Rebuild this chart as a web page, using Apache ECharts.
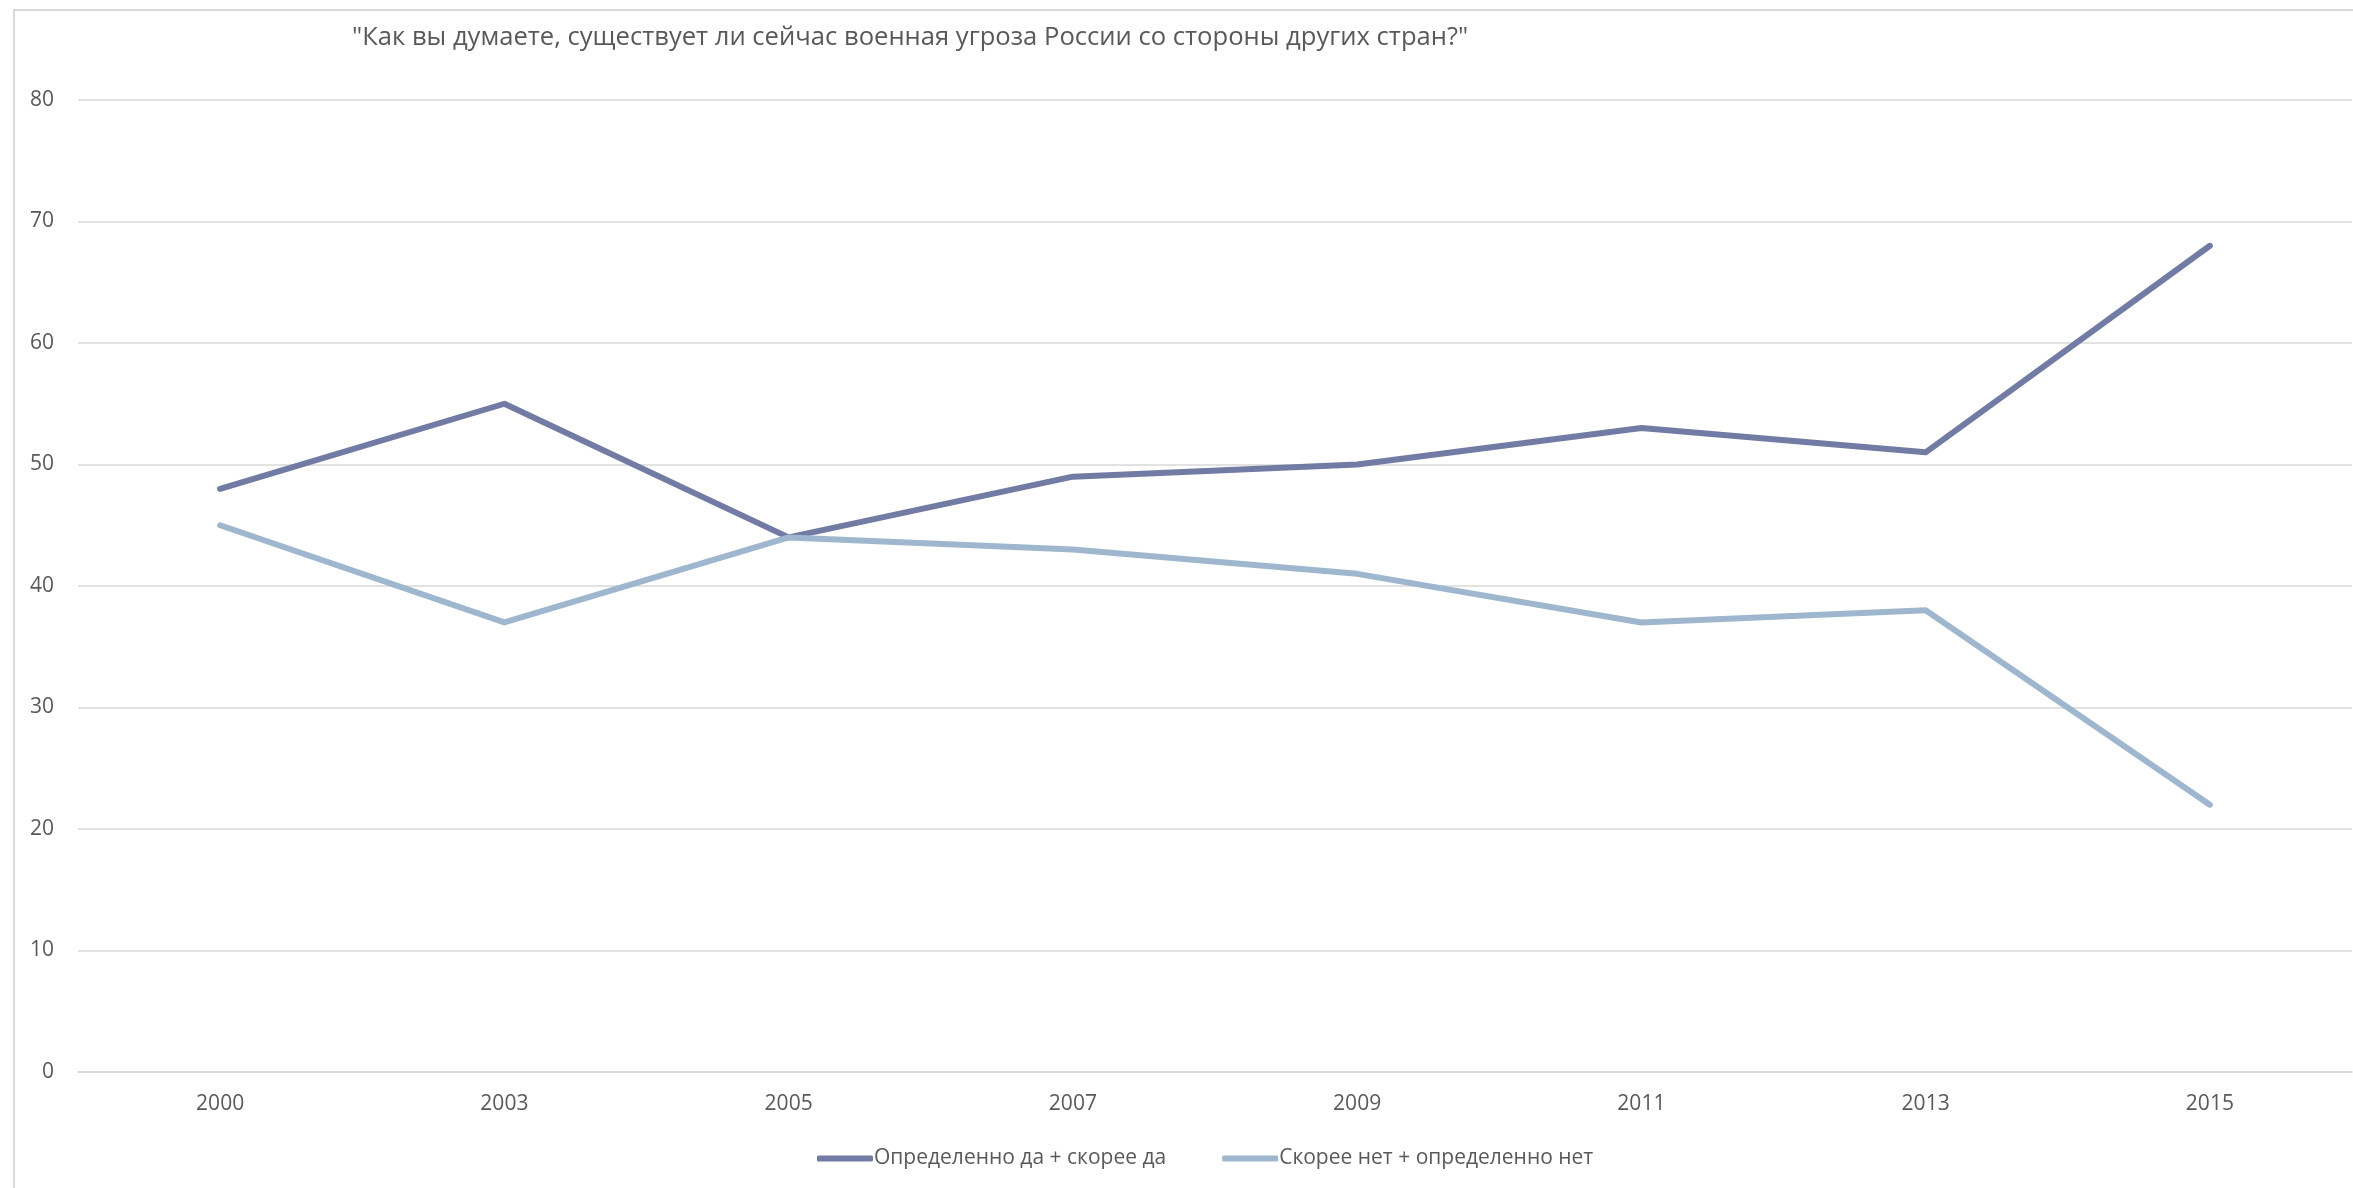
<!DOCTYPE html>
<html>
<head>
<meta charset="utf-8">
<script src="https://cdn.jsdelivr.net/npm/echarts@6/dist/echarts.min.js"></script>
<style>
  html, body { margin: 0; padding: 0; background: #fff; }
  #chart { width: 2353px; height: 1188px; }
</style>
</head>
<body>
<div id="chart"></div>
<script>
var years = ['2000', '2003', '2005', '2007', '2009', '2011', '2013', '2015'];
var yesValues = [48, 55, 44, 49, 50, 53, 51, 68];
var noValues = [45, 37, 44, 43, 41, 37, 38, 22];
var seriesNames = ['Определенно да + скорее да', 'Скорее нет + определенно нет'];
var titleText = '"Как вы думаете, существует ли сейчас военная угроза России со стороны других стран?"';

var dom = document.getElementById('chart');
var myChart = echarts.init(dom);
var font = '"Open Sans", "Noto Sans", sans-serif';

var option = {
    backgroundColor: '#fff',
    animation: false,
    title: {
        text: titleText,
        left: 347,
        top: 20,
        textStyle: { fontFamily: font, fontSize: 25.6, fontWeight: 'normal', color: '#595959' }
    },
    graphic: [{
        type: 'rect',
        shape: { x: 14, y: 10, width: 2400, height: 1300 },
        style: { fill: 'none', stroke: '#d9d9d9', lineWidth: 2 },
        silent: true
    }],
    legend: {
        data: seriesNames,
        icon: 'roundRect',
        bottom: 14,
        left: 812,
        itemWidth: 56,
        itemHeight: 6,
        itemGap: 56,
        textStyle: { fontFamily: font, fontSize: 21, color: '#595959', padding: [0, 0, 0, -4] }
    },
    grid: { left: 78, right: 1, top: 100, bottom: 116, containLabel: false },
    xAxis: {
        type: 'category',
        data: years,
        boundaryGap: true,
        axisLine: { show: true, lineStyle: { color: '#d9d9d9', width: 1.5 } },
        axisTick: { show: false },
        axisLabel: { margin: 22, fontFamily: font, fontSize: 21, color: '#595959' }
    },
    yAxis: {
        type: 'value',
        min: 0,
        max: 80,
        interval: 10,
        axisLine: { show: false },
        axisTick: { show: false },
        axisLabel: { margin: 24, fontFamily: font, fontSize: 21, color: '#595959' },
        splitLine: { lineStyle: { color: '#d9d9d9', width: 1.5 } }
    },
    series: [
        {
            name: seriesNames[0],
            type: 'line',
            data: yesValues,
            symbol: 'none',
            color: '#717ba4',
            lineStyle: { width: 6, cap: 'round', join: 'round' }
        },
        {
            name: seriesNames[1],
            type: 'line',
            data: noValues,
            symbol: 'none',
            color: '#9fb7ce',
            lineStyle: { width: 6, cap: 'round', join: 'round' }
        }
    ]
};
myChart.setOption(option);
</script>
</body>
</html>
